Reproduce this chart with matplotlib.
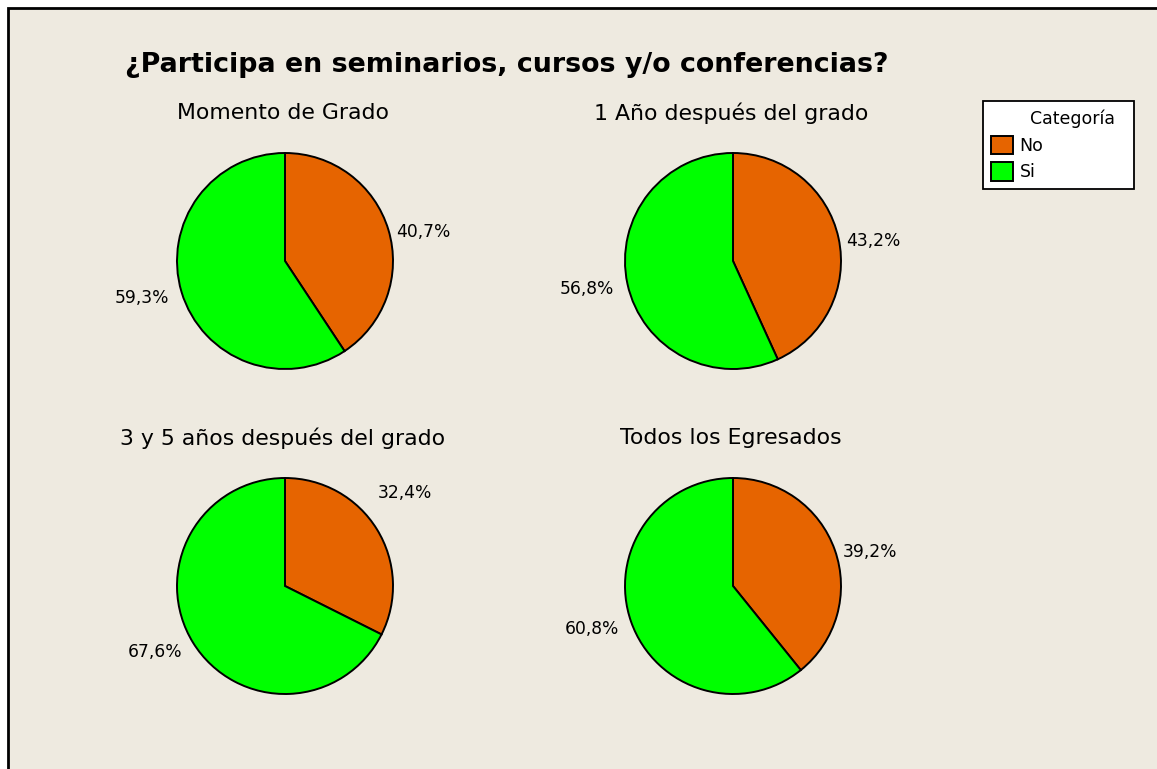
import matplotlib
matplotlib.use("Agg")
import matplotlib.pyplot as plt
from matplotlib.patches import Rectangle, Patch
import numpy as np

# ---- data ----
title = "¿Participa en seminarios, cursos y/o conferencias?"
panel_titles = ["Momento de Grado", "1 Año después del grado",
                "3 y 5 años después del grado", "Todos los Egresados"]
categories = ["No", "Si"]
no_pct = [40.7, 43.2, 32.4, 39.2]
si_pct = [59.3, 56.8, 67.6, 60.8]

# ---- style ----
W, H = 1157, 769
BG = "#EEEAE0"
colors = ["#E66400", "#00FF00"]
FONT = "DejaVu Sans"

fig = plt.figure(figsize=(W / 100, H / 100), dpi=100)
fig.patch.set_facecolor("white")
# frame
frame = Rectangle((8 / W, -0.1), 1.2, 1.1 - 8 / H,
                  transform=fig.transFigure, facecolor=BG,
                  edgecolor="black", linewidth=2, zorder=-10)
fig.patches.append(frame)

fig.text(507 / W, 1 - 65 / H, title, ha="center", va="center",
         fontsize=19.4, fontweight="bold", family=FONT)

centers = [(285, 261), (733, 261), (285, 586), (733, 586)]
R = 108
# per-panel label tweak for the "No" slice: (angle offset deg, radius factor)
label_adjust = {2: (13.5, 1.22)}

for i, (cx, cy) in enumerate(centers):
    ax = fig.add_axes([(cx - R) / W, 1 - (cy + R) / H, 2 * R / W, 2 * R / H])
    ax.set_facecolor("none")
    ax.patch.set_alpha(0)
    vals = [no_pct[i], si_pct[i]]
    ax.pie(vals, colors=colors, startangle=90, counterclock=False, radius=1,
           wedgeprops=dict(edgecolor="black", linewidth=1.4))
    ax.set_xlim(-1, 1)
    ax.set_ylim(-1, 1)
    ax.set_aspect("equal")
    ax.axis("off")
    cum = 0
    for j, v in enumerate(vals):
        mid = 90 - (cum + v / 2) * 3.6
        cum += v
        right = np.cos(np.deg2rad(mid)) > 0
        if right:
            mid -= 2.3
            rf = 1.065
        else:
            mid += 1.0
            rf = 1.13
        if j == 0 and i in label_adjust:
            da, rf = label_adjust[i]
            mid += da + 2.3
        th = np.deg2rad(mid)
        x, y = rf * np.cos(th), rf * np.sin(th)
        ha = "left" if right else "right"
        ax.text(x, y, f"{v:.1f}%".replace(".", ","), ha=ha, va="center",
                fontsize=12.3, family=FONT, clip_on=False)
    fig.text((cx - 2) / W, 1 - (cy - 148) / H, panel_titles[i], ha="center",
             va="center", fontsize=15.8, family=FONT)

handles = [Patch(facecolor="none", edgecolor="none")] + \
          [Patch(facecolor=c, edgecolor="black", linewidth=1.4) for c in colors]
labels = ["  Categoría  "] + categories
leg = fig.legend(handles, labels,
                 loc="upper left", bbox_to_anchor=(983 / W, 1 - 101 / H),
                 frameon=True, fancybox=False, edgecolor="black",
                 facecolor="white", framealpha=1, fontsize=12.5,
                 handlelength=1.25, handleheight=1.25, borderpad=0.45,
                 labelspacing=0.45, handletextpad=0.4, borderaxespad=0)
leg.get_frame().set_linewidth(1.3)

fig.savefig("out.png", dpi=100, facecolor=fig.get_facecolor())
